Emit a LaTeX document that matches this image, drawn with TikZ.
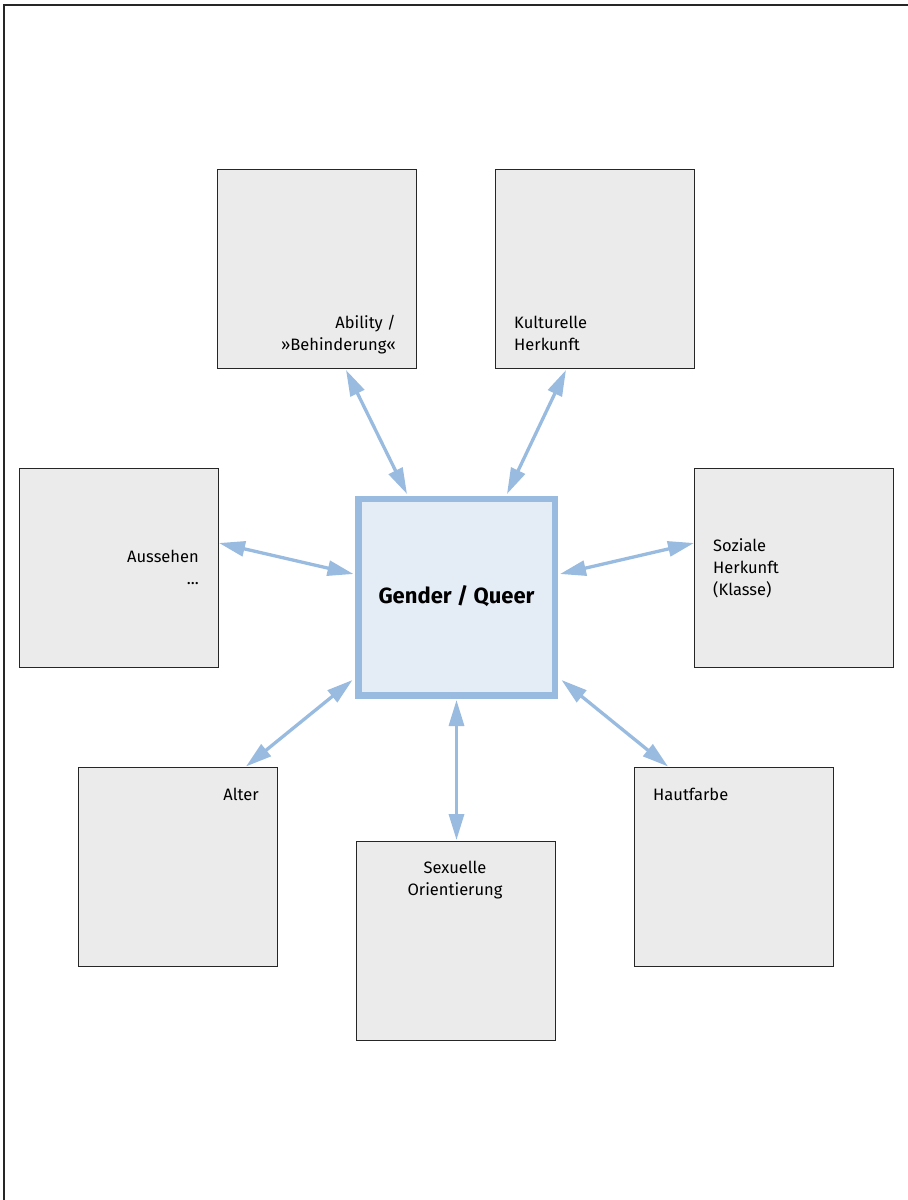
\documentclass[tikz,border=0pt]{standalone}
\usepackage{fontspec}
\setmainfont{Fira Sans}
\usetikzlibrary{arrows.meta,calc}
\definecolor{conblue}{HTML}{99BBE0}
\definecolor{centfill}{HTML}{E4ECF6}
\definecolor{boxgray}{HTML}{EBEBEB}
\tikzset{
  graybox/.style={draw=black!85,line width=1pt,fill=boxgray,minimum width=199pt,minimum height=199pt,inner sep=0pt},
  centbox/.style={draw=conblue,line width=6.5pt,fill=centfill,minimum width=196.5pt,minimum height=196.5pt,inner sep=0pt},
  lbl/.style={font=\fontsize{16.5}{22}\selectfont,inner sep=0pt},
  conn/.style={conblue,line width=3.3pt,{Triangle[length=26pt,width=15pt]}-{Triangle[length=26pt,width=15pt]}},
}
\begin{document}
\begin{tikzpicture}[x=1pt,y=-1pt]
\useasboundingbox (0,0) rectangle (908,1200);
\draw[line width=1.3pt,black!85] (908,5) -- (4,5) -- (4,1200);
% boxes
\node[graybox] (abil) at (317,269) {};
\node[graybox] (kult) at (595,269) {};
\node[graybox] (auss) at (118.5,567.5) {};
\node[graybox] (soz) at (794,567.5) {};
\node[graybox] (alter) at (177.5,866.5) {};
\node[graybox] (sex) at (456,940.5) {};
\node[graybox] (haut) at (734,866.5) {};
\node[centbox] (gq) at (456.5,597) {};
% labels (base anchor = baseline of last line)
\node[lbl,anchor=base east,align=right] (tabil) at (396,350) {Ability /\\»Behinderung«};
\node[lbl,anchor=base west,align=left] (tkult) at (514,350) {Kulturelle\\Herkunft};
\node[lbl,anchor=base east,align=right] (tauss) at (199,584) {Aussehen\\...};
\node[lbl,anchor=base west,align=left] (tsoz) at (713,595) {Soziale\\Herkunft\\(Klasse)};
\node[lbl,anchor=base east] (talter) at (259,800) {Alter};
\node[lbl,anchor=base,align=center] (tsex) at (455,895) {Sexuelle\\Orientierung};
\node[lbl,anchor=base west] (thaut) at (653,800) {Hautfarbe};
\node[font=\fontsize{22}{26}\selectfont\bfseries,anchor=base,inner sep=0pt] (tgq) at (456.5,603) {Gender / Queer};
% connectors
\draw[conn] ($(abil.south)+(29,1)$) -- ($(gq.north)+(-49.5,-1.5)$);
\draw[conn] ($(kult.south)+(-29,1)$) -- ($(gq.north)+(50.5,-1.5)$);
\draw[conn] ($(auss.east)+(0.5,-24.5)$) -- ($(gq.west)+(-1.5,-23)$);
\draw[conn] ($(soz.west)+(0,-24.5)$) -- ($(gq.east)+(2,-23)$);
\draw[conn] ($(alter.north)+(68.5,0)$) -- ($(gq.south west)+(-2.5,-18.5)$);
\draw[conn] ($(gq.south)+(0,1.5)$) -- ($(sex.north)+(0.5,-0.5)$);
\draw[conn] ($(haut.north)+(-66,0)$) -- ($(gq.south east)+(3.5,-18.5)$);
\end{tikzpicture}
\end{document}
